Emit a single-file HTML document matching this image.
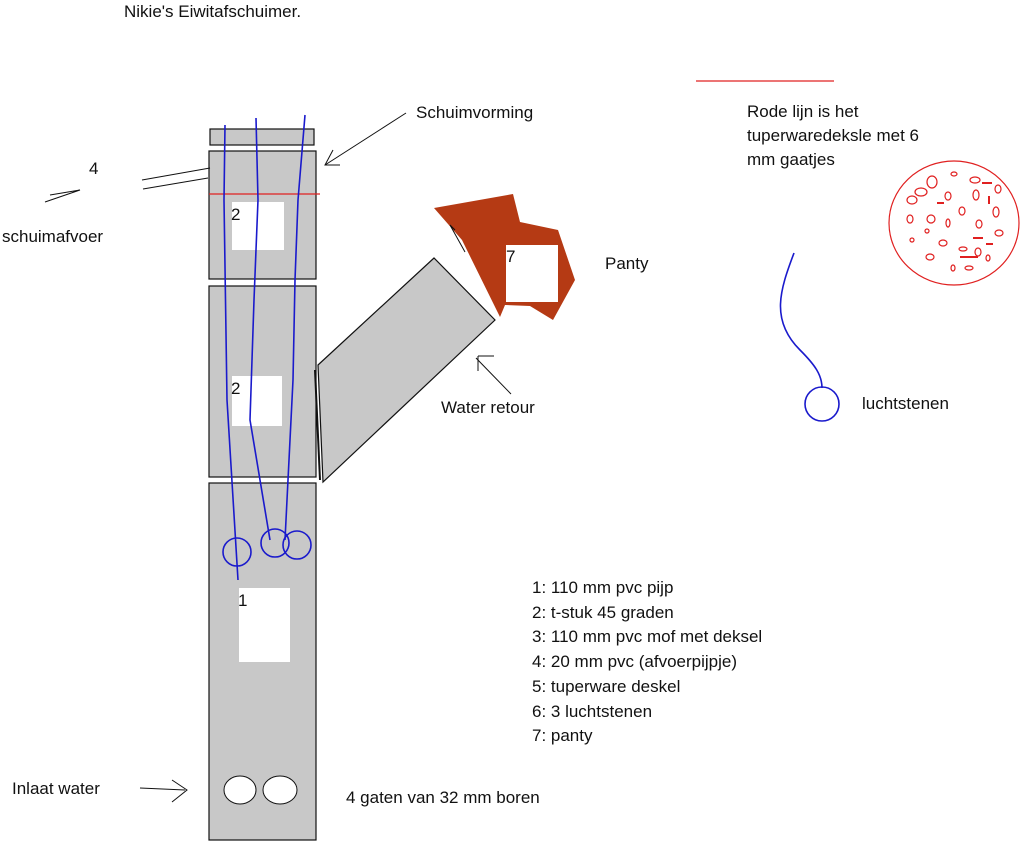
<!DOCTYPE html>
<html><head><meta charset="utf-8"><style>
html,body{margin:0;padding:0;background:#fff;}
body{width:1024px;height:841px;overflow:hidden;position:relative;font-family:"Liberation Sans",sans-serif;}
.t{position:absolute;font-size:17px;color:#111;white-space:nowrap;line-height:1;}
</style></head><body>
<svg width="1024" height="841" style="position:absolute;left:0;top:0">
<g fill="#c8c8c8" stroke="#111" stroke-width="1.2">
<rect x="210" y="129" width="104" height="16"/>
<rect x="209" y="151" width="107" height="128"/>
<rect x="209" y="286" width="107" height="191"/>
<rect x="209" y="483" width="107" height="357"/>
<polygon points="318,365 434,258 495,320 323,482"/>
</g>
<line x1="315" y1="370" x2="320" y2="480" stroke="#111" stroke-width="2"/>
<polygon points="434,208 513,194 520,222 558,230 575,280 553,320 530,306 505,305 500,317 462,240" fill="#b53a14"/>
<g fill="#fff">
<rect x="232" y="202" width="52" height="48"/>
<rect x="232" y="376" width="50" height="50"/>
<rect x="239" y="588" width="51" height="74"/>
<rect x="506" y="245" width="52" height="57"/>
<ellipse cx="240" cy="790" rx="16" ry="14" stroke="#111"/>
<ellipse cx="280" cy="790" rx="17" ry="14" stroke="#111"/>
</g>
<line x1="209" y1="194" x2="320" y2="194" stroke="#e02020" stroke-width="1.2"/>
<line x1="696" y1="81" x2="834" y2="81" stroke="#e02020" stroke-width="1.2"/>
<g fill="none" stroke="#1a1acc" stroke-width="1.6">
<path d="M225,125 L224,200 L227,400 L238,580"/>
<path d="M256,118 L258,200 L254,300 L250,420 L270,540"/>
<path d="M305,115 L298,200 L295,280 L293,380 L285,540"/>
<path d="M794,253 C780,290 770,320 800,350 C815,365 822,375 822,388"/>
<circle cx="237" cy="552" r="14"/>
<circle cx="275" cy="543" r="14"/>
<circle cx="297" cy="545" r="14"/>
<circle cx="822" cy="404" r="17"/>
</g>
<g stroke="#111" stroke-width="1" fill="none">
<line x1="142" y1="180" x2="210" y2="168"/>
<line x1="143" y1="189" x2="208" y2="178"/>
<path d="M50,195 L80,190 L45,202"/>
<line x1="325" y1="165" x2="406" y2="113"/>
<path d="M333,150 L325,165 L340,165"/>
<path d="M465,252 L450,225 L455,230"/>
<line x1="476" y1="358" x2="511" y2="394"/>
<path d="M478,356 L494,356 M478,356 L478,371"/>
<line x1="140" y1="788" x2="185" y2="790"/>
<path d="M172,780 L187,790 L172,802"/>
</g>
<g fill="none" stroke="#e02020" stroke-width="1.2">
<ellipse cx="954" cy="223" rx="65" ry="62"/>
<ellipse cx="932" cy="182" rx="5" ry="6"/><ellipse cx="921" cy="192" rx="6" ry="4"/>
<ellipse cx="912" cy="200" rx="5" ry="4"/><ellipse cx="948" cy="196" rx="3" ry="4"/>
<ellipse cx="975" cy="180" rx="5" ry="3"/><ellipse cx="998" cy="189" rx="3" ry="4"/>
<ellipse cx="976" cy="195" rx="3" ry="5"/><ellipse cx="962" cy="211" rx="3" ry="4"/>
<ellipse cx="910" cy="219" rx="3" ry="4"/><ellipse cx="931" cy="219" rx="4" ry="4"/>
<ellipse cx="948" cy="223" rx="2" ry="4"/><ellipse cx="979" cy="224" rx="3" ry="4"/>
<ellipse cx="996" cy="212" rx="3" ry="5"/><ellipse cx="927" cy="231" rx="2" ry="2"/>
<ellipse cx="912" cy="240" rx="2" ry="2"/><ellipse cx="943" cy="243" rx="4" ry="3"/>
<ellipse cx="999" cy="233" rx="4" ry="3"/><ellipse cx="963" cy="249" rx="4" ry="2"/>
<ellipse cx="978" cy="252" rx="3" ry="4"/><ellipse cx="930" cy="257" rx="4" ry="3"/>
<ellipse cx="988" cy="258" rx="2" ry="3"/><ellipse cx="953" cy="268" rx="2" ry="3"/>
<ellipse cx="969" cy="268" rx="4" ry="2"/><ellipse cx="954" cy="174" rx="3" ry="2"/>
</g>
<g stroke="#e02020" stroke-width="2">
<line x1="982" y1="183" x2="992" y2="183"/><line x1="937" y1="203" x2="944" y2="203"/>
<line x1="989" y1="196" x2="989" y2="204"/><line x1="973" y1="238" x2="983" y2="238"/>
<line x1="986" y1="244" x2="993" y2="244"/><line x1="960" y1="257" x2="978" y2="257"/>
</g>
</svg>
<div class="t" style="left:124px;top:3px">Nikie's Eiwitafschuimer.</div>
<div class="t" style="left:416px;top:104px">Schuimvorming</div>
<div class="t" style="left:89px;top:160px">4</div>
<div class="t" style="left:2px;top:228px">schuimafvoer</div>
<div class="t" style="left:231px;top:206px">2</div>
<div class="t" style="left:231px;top:380px">2</div>
<div class="t" style="left:238px;top:592px">1</div>
<div class="t" style="left:506px;top:248px">7</div>
<div class="t" style="left:605px;top:255px">Panty</div>
<div class="t" style="left:441px;top:399px">Water retour</div>
<div class="t" style="left:747px;top:100px;line-height:24px">Rode lijn is het<br>tuperwaredeksle met 6<br>mm gaatjes</div>
<div class="t" style="left:862px;top:395px">luchtstenen</div>
<div class="t" style="left:532px;top:576px;line-height:24.7px">1: 110 mm pvc pijp<br>2: t-stuk 45 graden<br>3: 110 mm pvc mof met deksel<br>4: 20 mm pvc (afvoerpijpje)<br>5: tuperware deskel<br>6: 3 luchtstenen<br>7: panty</div>
<div class="t" style="left:12px;top:780px">Inlaat water</div>
<div class="t" style="left:346px;top:789px">4 gaten van 32 mm boren</div>
</body></html>
